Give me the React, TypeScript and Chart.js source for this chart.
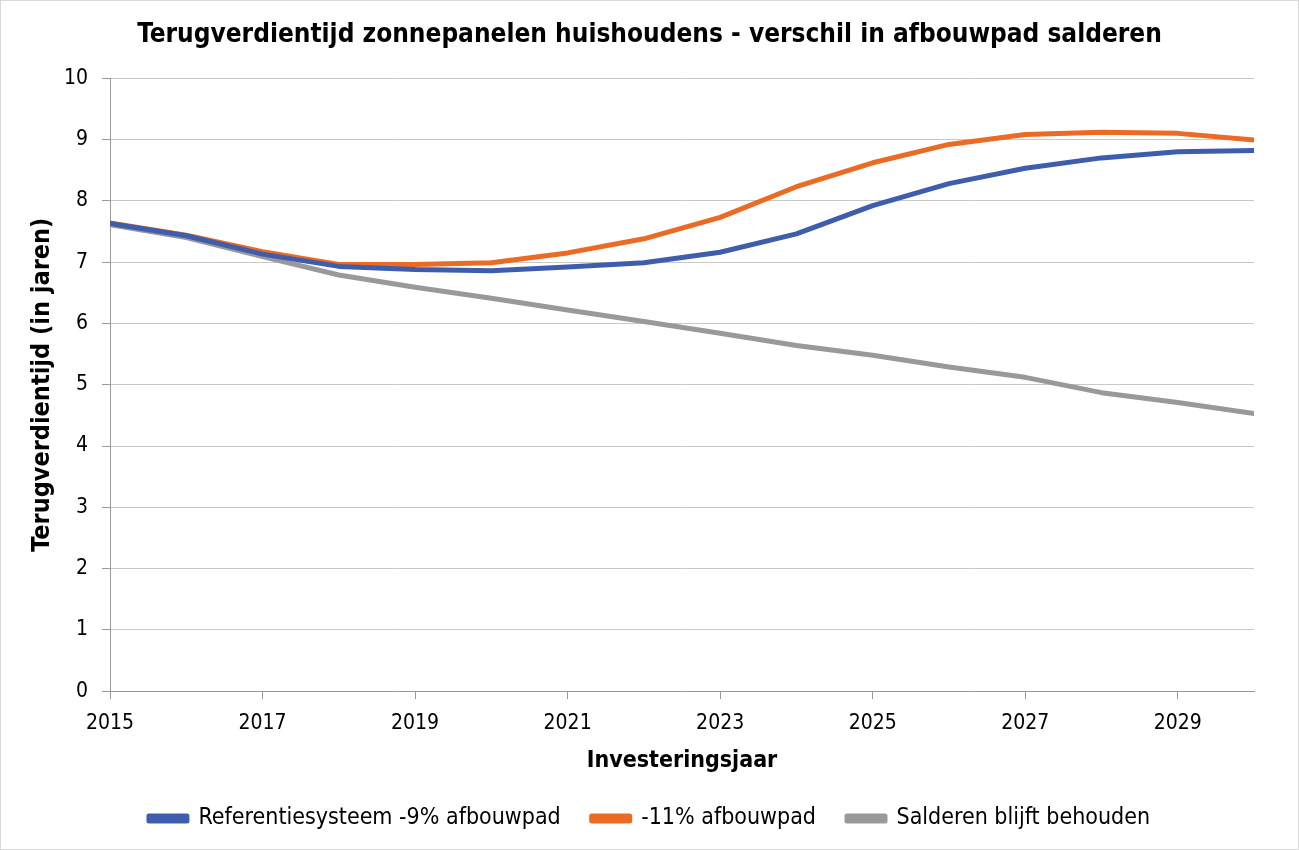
import React, { useEffect, useRef } from "react";
import { Chart, registerables } from "chart.js";

Chart.register(...registerables);

const years = [2015, 2016, 2017, 2018, 2019, 2020, 2021, 2022, 2023, 2024, 2025, 2026, 2027, 2028, 2029, 2030];
const referentie = [7.63, 7.43, 7.13, 6.93, 6.88, 6.86, 6.92, 6.99, 7.16, 7.46, 7.92, 8.28, 8.53, 8.70, 8.80, 8.82];
const afbouw11 = [7.64, 7.44, 7.17, 6.96, 6.96, 6.99, 7.15, 7.38, 7.73, 8.23, 8.62, 8.92, 9.08, 9.12, 9.10, 8.99];
const salderen = [7.61, 7.40, 7.09, 6.79, 6.59, 6.41, 6.22, 6.03, 5.84, 5.64, 5.48, 5.29, 5.12, 4.87, 4.71, 4.53];
const xTicks = [2015, 2017, 2019, 2021, 2023, 2025, 2027, 2029];
const seriesNames = ["Referentiesysteem -9% afbouwpad", "-11% afbouwpad", "Salderen blijft behouden"];
const seriesColors = ["#3E5EAD", "#EB6B25", "#999999"];

const FONT = "'Liberation Sans Narrow', 'DejaVu Sans Condensed', 'Open Sans', sans-serif";

const borderPlugin = {
  id: "outerBorder",
  afterDraw(chart: any) {
    const { ctx, width, height } = chart;
    ctx.save();
    ctx.strokeStyle = "#d9d9d9";
    ctx.lineWidth = 1;
    ctx.strokeRect(0.5, 0.5, width - 1, height - 1);
    ctx.restore();
  },
};

export default function App() {
  const ref = useRef<HTMLCanvasElement | null>(null);
  useEffect(() => {
    document.body.style.margin = "0";
    const values = [referentie, afbouw11, salderen];
    const chart = new Chart(ref.current!, {
      type: "line",
      data: {
        datasets: values.map((arr, i) => ({
          label: seriesNames[i],
          data: years.map((y, j) => ({ x: y, y: arr[j] })),
          borderColor: seriesColors[i],
          backgroundColor: seriesColors[i],
          borderWidth: 5,
          pointRadius: 0,
          tension: 0,
          borderCapStyle: "round",
          borderJoinStyle: "round",
        })),
      },
      options: {
        animation: false,
        responsive: true,
        maintainAspectRatio: false,
        layout: { padding: { left: 24, right: 24, top: 14, bottom: 10 } },
        plugins: {
          title: {
            display: true,
            text: "Terugverdientijd zonnepanelen huishoudens - verschil in afbouwpad salderen",
            color: "#000",
            font: { family: FONT, size: 26, weight: "bold" },
            padding: { top: 6, bottom: 27 },
          },
          legend: {
            position: "bottom",
            labels: {
              color: "#000",
              font: { family: FONT, size: 23 },
              boxWidth: 38,
              boxHeight: 5,
              padding: 31,
            },
          },
          tooltip: { enabled: false },
        },
        scales: {
          x: {
            type: "linear",
            min: 2015,
            max: 2030,
            afterBuildTicks: (scale: any) => {
              scale.ticks = xTicks.map((v) => ({ value: v }));
            },
            ticks: {
              color: "#000",
              font: { family: FONT, size: 21 },
              autoSkip: false,
              maxRotation: 0,
              padding: 12,
              callback: (v: any) => String(v),
            },
            grid: { drawOnChartArea: false, color: "#999", tickLength: 8, drawTicks: true },
            border: { color: "#999", width: 1 },
            title: {
              display: true,
              text: "Investeringsjaar",
              color: "#000",
              font: { family: FONT, size: 23, weight: "bold" },
              padding: { top: -1, bottom: 1 },
            },
          },
          y: {
            min: 0,
            max: 10,
            ticks: {
              stepSize: 1,
              color: "#000",
              font: { family: FONT, size: 21 },
              padding: 14,
            },
            grid: { color: "#c8c8c8", tickLength: 8, tickColor: "#999" },
            border: { color: "#999", width: 1 },
            title: {
              display: true,
              text: "Terugverdientijd (in jaren)",
              color: "#000",
              font: { family: FONT, size: 25, weight: "bold" },
              padding: { top: 3, bottom: -7 },
            },
          },
          rightSpace: {
            type: "linear",
            position: "right",
            display: true,
            grid: { display: false, drawTicks: false },
            border: { display: false },
            ticks: { display: false },
            afterFit: (scale: any) => {
              scale.width = 21;
            },
          },
        },
      } as any,
      plugins: [borderPlugin],
    });
    return () => chart.destroy();
  }, []);
  return (
    <div style={{ width: 1299, height: 850, position: "relative", background: "#fff" }}>
      <canvas ref={ref} />
    </div>
  );
}
